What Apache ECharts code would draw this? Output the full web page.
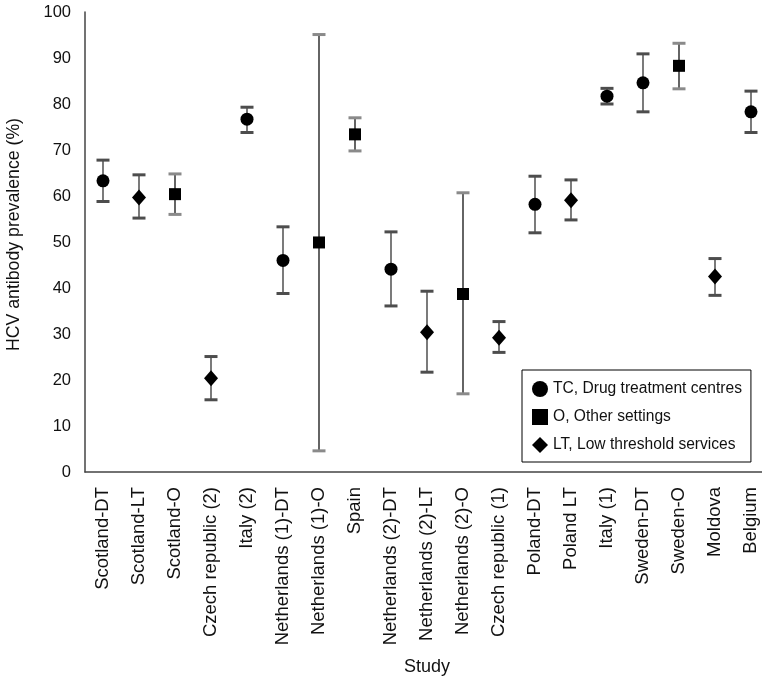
<!DOCTYPE html>
<html>
<head>
<meta charset="utf-8">
<script src="https://cdn.jsdelivr.net/npm/echarts@6/dist/echarts.min.js"></script>
<style>html,body{margin:0;padding:0;background:#fff}#c{width:762px;height:676px}</style>
</head>
<body>
<div id="c"></div>
<script>
const categories = ["Scotland-DT","Scotland-LT","Scotland-O","Czech republic (2)","Italy (2)","Netherlands (1)-DT","Netherlands (1)-O","Spain","Netherlands (2)-DT","Netherlands (2)-LT","Netherlands (2)-O","Czech republic (1)","Poland-DT","Poland LT","Italy (1)","Sweden-DT","Sweden-O","Moldova","Belgium"];
const settings = ["TC","LT","O","LT","TC","TC","O","O","TC","LT","O","LT","TC","LT","TC","TC","O","LT","TC"];
const prevalence = [63.3,59.7,60.4,20.4,76.7,46.0,49.9,73.4,44.1,30.4,38.7,29.2,58.2,59.1,81.7,84.6,88.3,42.5,78.3];
const lowerCI = [58.8,55.2,56.0,15.7,73.8,38.8,4.6,69.8,36.1,21.7,17.0,26.0,52.0,54.8,80.0,78.3,83.3,38.4,73.8];
const upperCI = [67.8,64.6,64.8,25.1,79.3,53.3,95.1,77.0,52.2,39.3,60.7,32.7,64.3,63.5,83.4,90.9,93.2,46.4,82.8];
const yTicks = [0,10,20,30,40,50,60,70,80,90,100];
const seriesNames = {TC:"TC, Drug treatment centres", O:"O, Other settings", LT:"LT, Low threshold services"};

const font = "'Liberation Sans', Arial, Helvetica, sans-serif";
function pick(t){ return prevalence.map((v,i)=> settings[i]===t ? v : '-'); }

const errData = categories.map((c,i)=>[i, lowerCI[i], upperCI[i], settings[i]==='O'?1:0]);

const chart = echarts.init(document.getElementById('c'), null, {renderer:'canvas'});
chart.setOption({
  animation:false,
  backgroundColor:'#fff',
  grid:{left:85, top:12, width:684, height:460, containLabel:false, outerBoundsMode:'none'},
  xAxis:{
    type:'category', data:categories, boundaryGap:true,
    name:'Study', nameLocation:'middle', nameGap:186,
    nameTextStyle:{fontFamily:font, fontSize:18, color:'#111'},
    axisLine:{lineStyle:{color:'#444', width:1.5}},
    axisTick:{show:false},
    axisLabel:{rotate:90, interval:0, margin:15, fontFamily:font, fontSize:18.5, color:'#111'}
  },
  yAxis:{
    type:'value', min:0, max:100, interval:10,
    name:'HCV antibody prevalence (%)', nameLocation:'middle', nameGap:62,
    nameTextStyle:{fontFamily:font, fontSize:17.7, color:'#111', padding:[0,0,0,15]},
    axisLine:{show:true, lineStyle:{color:'#444', width:1.5}},
    axisTick:{show:false},
    splitLine:{show:false},
    axisLabel:{margin:14, fontFamily:font, fontSize:16.5, color:'#111',
      formatter:(v)=> yTicks.indexOf(v)>=0 ? String(v) : ''}
  },
  legend:{
    orient:'vertical', left:522, top:370,
    backgroundColor:'#fff', borderColor:'#000', borderWidth:1,
    padding:[11,9,9,10], itemGap:12, itemWidth:16, itemHeight:16,
    textStyle:{fontFamily:font, fontSize:15.6, color:'#111'},
    data:[
      {name:seriesNames.TC, icon:'circle'},
      {name:seriesNames.O, icon:'rect'},
      {name:seriesNames.LT, icon:'diamond'}
    ]
  },
  series:[
    {
      type:'custom', name:'CI', z:1, silent:true,
      data:errData,
      renderItem:function(params, api){
        const x = api.value(0);
        const lo = api.coord([x, api.value(1)]);
        const hi = api.coord([x, api.value(2)]);
        const light = api.value(3)===1;
        const capCol = light ? '#8a8a8a' : '#4d4d4d';
        const lineCol = light ? '#111' : '#333';
        const hw = 6.5;
        return {type:'group', children:[
          {type:'line', shape:{x1:lo[0], y1:lo[1], x2:hi[0], y2:hi[1]}, style:{stroke:lineCol, lineWidth:1.3}},
          {type:'line', shape:{x1:lo[0]-hw, y1:lo[1], x2:lo[0]+hw, y2:lo[1]}, style:{stroke:capCol, lineWidth:3}},
          {type:'line', shape:{x1:hi[0]-hw, y1:hi[1], x2:hi[0]+hw, y2:hi[1]}, style:{stroke:capCol, lineWidth:3}}
        ]};
      }
    },
    {type:'scatter', name:seriesNames.TC, data:pick('TC'), symbol:'circle', symbolSize:13, z:3, itemStyle:{color:'#000', opacity:1}},
    {type:'scatter', name:seriesNames.O, data:pick('O'), symbol:'rect', symbolSize:12, z:3, itemStyle:{color:'#000', opacity:1}},
    {type:'scatter', name:seriesNames.LT, data:pick('LT'), symbol:'diamond', symbolSize:[14,16], z:3, itemStyle:{color:'#000', opacity:1}}
  ]
});
</script>
</body>
</html>
